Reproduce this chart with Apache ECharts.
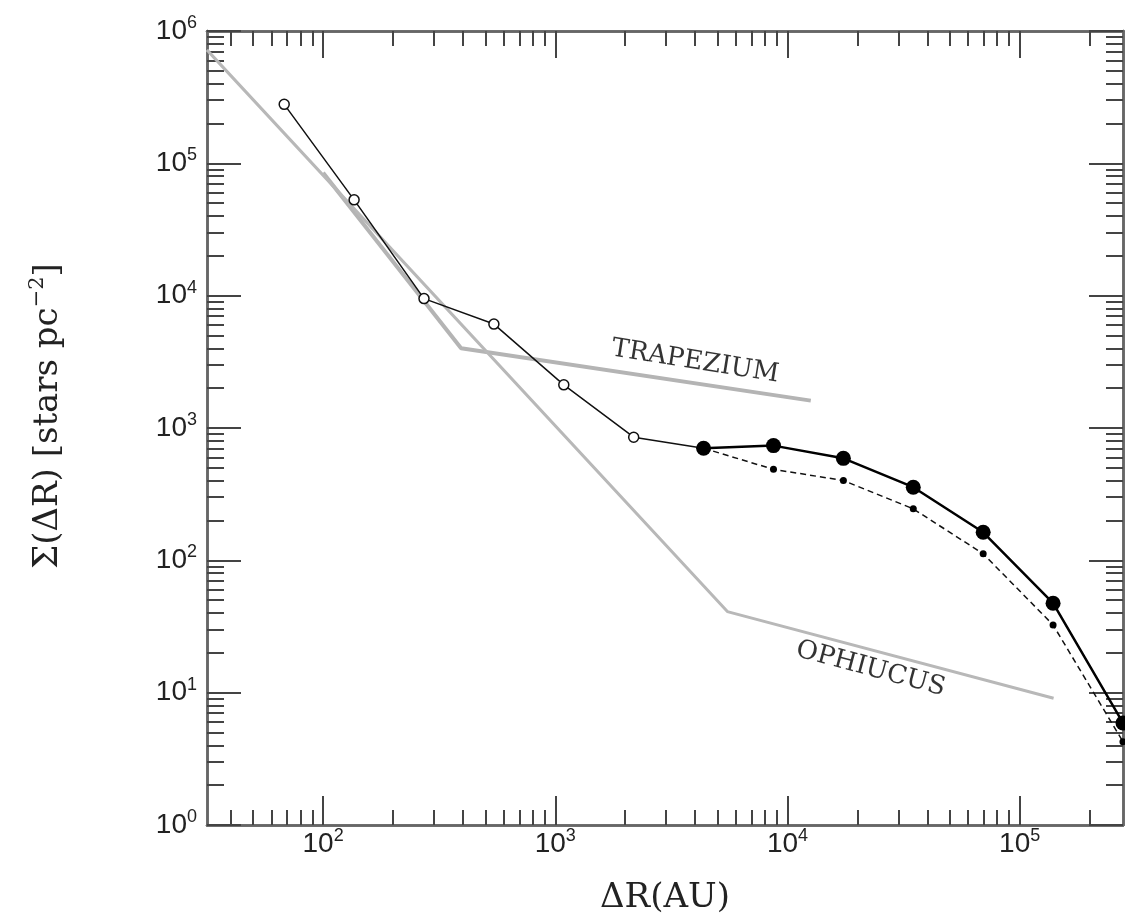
<!DOCTYPE html>
<html lang="en">
  <head>
    <meta charset="utf-8" />
    <title>Sigma(dR)</title>
    <script src="https://cdn.jsdelivr.net/npm/echarts@6/dist/echarts.min.js"></script>
    <style>
      html, body { margin: 0; padding: 0; background: #fff; }
      #chart { width: 1125px; height: 916px; }
    </style>
  </head>
  <body>
    <div id="chart"></div>
    <script type="text/javascript">
      // separations (AU)
      var dist = [68, 136, 272, 544, 1088, 2176, 4352, 8704, 17408, 34816, 69632, 139264, 278528];
      // open circles, thin line (first 7 separations)
      var sigmaInner = [279000, 53000, 9500, 6100, 2120, 852, 703];
      // filled circles, thick line (from 4352 AU on)
      var sigmaOuter = [703, 736, 590, 357, 163, 47.4, 5.9];
      // small dots, dashed line (from 4352 AU on)
      var sigmaDashed = [703, 487, 401, 245, 112, 32.5, 4.26];

      // grey reference lines
      var trapX = [100, 393, 12600];
      var trapY = [85000, 4010, 1610];
      var ophX = [31.6, 5510, 140000];
      var ophY = [720000, 41, 9.07];

      // labels for the grey lines [x, y, text, angle]
      var notes = [
        [4000, 3160, "TRAPEZIUM", -9],
        [22800, 15.1, "OPHIUCUS", -15],
      ];

      var xMajor = [100, 1000, 10000, 100000];
      var yMajor = [1, 10, 100, 1000, 10000, 100000, 1000000];

      var lg = Math.log10;
      var xMin = 1.5, xMax = 5.445, yMin = 0, yMax = 6;

      function minors(lo, hi) {
        var out = [];
        for (var n = Math.floor(lo) - 1; n <= Math.ceil(hi); n++) {
          for (var k = 2; k <= 9; k++) {
            var v = n + lg(k);
            if (v > lo && v < hi) out.push(v);
          }
        }
        return out;
      }
      function pairs(xs, ys, off) {
        return ys.map(function (y, i) {
          return [lg(xs[i + (off || 0)]), lg(y)];
        });
      }
      var lbl = function (v) {
        return "{b|10}{s|" + Math.round(v) + "}";
      };
      var rich = {
        b: { fontFamily: "Liberation Sans", fontSize: 28, lineHeight: 34, color: "#222" },
        s: { fontFamily: "Liberation Sans", fontSize: 18, lineHeight: 4, verticalAlign: "top", color: "#222" },
      };
      var lineCol = "#666";

      function xAx(grid, pos, ticks, len, labels) {
        return {
          type: "value", gridIndex: grid, position: pos, min: xMin, max: xMax,
          splitLine: { show: false },
          axisLine: { show: true, onZero: false, lineStyle: { color: lineCol, width: 2.5 } },
          axisTick: { show: true, inside: true, length: len, customValues: ticks, lineStyle: { color: "#444", width: 2 } },
          axisLabel: labels
            ? { show: true, customValues: xMajor.map(lg), formatter: lbl, rich: rich, margin: 2 }
            : { show: false },
        };
      }
      function yAx(grid, pos, ticks, len, labels) {
        return {
          type: "value", gridIndex: grid, position: pos, min: yMin, max: yMax,
          splitLine: { show: false },
          axisLine: { show: true, onZero: false, lineStyle: { color: lineCol, width: 2.5 } },
          axisTick: { show: true, inside: true, length: len, customValues: ticks, lineStyle: { color: "#444", width: 2 } },
          axisLabel: labels
            ? { show: true, customValues: yMajor.map(lg), formatter: lbl, rich: rich, margin: 10 }
            : { show: false },
        };
      }

      var gridBox = { left: 207, top: 31, right: 2, bottom: 91, outerBoundsMode: "none" };
      var grids = [0, 1, 2, 3].map(function () {
        return Object.assign({}, gridBox);
      });

      var xs = [
        xAx(0, "bottom", xMajor.map(lg), 29, true),
        xAx(1, "top", xMajor.map(lg), 27, false),
        xAx(2, "bottom", minors(xMin, xMax), 15, false),
        xAx(3, "top", minors(xMin, xMax), 15, false),
      ];
      var ys = [
        yAx(0, "left", yMajor.map(lg), 34, true),
        yAx(1, "right", yMajor.map(lg), 34, false),
        yAx(2, "left", minors(yMin, yMax), 17, false),
        yAx(3, "right", minors(yMin, yMax), 17, false),
      ];
      xs[0].name = "ΔR(AU)";
      xs[0].nameLocation = "middle";
      xs[0].nameGap = 56;
      xs[0].nameTextStyle = { fontFamily: "DejaVu Serif", fontSize: 34, color: "#222" };
      ys[0].name = "{n|Σ(ΔR) [stars pc}{s|−2}{n|]}";
      ys[0].nameLocation = "middle";
      ys[0].nameRotate = 90;
      ys[0].nameGap = 138;
      ys[0].nameTextStyle = {
        padding: [0, 0, 0, 24],
        rich: {
          n: { fontFamily: "DejaVu Serif", fontSize: 34, lineHeight: 42, color: "#222" },
          s: { fontFamily: "DejaVu Serif", fontSize: 21, lineHeight: 8, verticalAlign: "top", color: "#222" },
        },
      };

      var myChart = echarts.init(document.getElementById("chart"));
      myChart.setOption({
        animation: false,
        backgroundColor: "#fff",
        grid: grids,
        xAxis: xs,
        yAxis: ys,
        series: [
          {
            name: "Trapezium", type: "line", data: pairs(trapX, trapY), symbol: "none",
            lineStyle: { color: "#b4b4b4", width: 4 }, z: 1,
          },
          {
            name: "Ophiucus", type: "line", data: pairs(ophX, ophY), symbol: "none",
            lineStyle: { color: "#b8b8b8", width: 3 }, z: 1,
          },
          {
            name: "inner", type: "line", data: pairs(dist, sigmaInner), symbol: "circle", symbolSize: 10,
            itemStyle: { color: "#fff", borderColor: "#111", borderWidth: 1.5 },
            lineStyle: { color: "#111", width: 1.5 }, z: 3,
          },
          {
            name: "dashed", type: "line", data: pairs(dist, sigmaDashed, 6), symbol: "circle", symbolSize: 7,
            itemStyle: { color: "#000" },
            lineStyle: { color: "#111", width: 1.5, type: [6, 4] }, z: 3,
          },
          {
            name: "outer", type: "line", data: pairs(dist, sigmaOuter, 6), symbol: "circle", symbolSize: 15,
            itemStyle: { color: "#000" },
            lineStyle: { color: "#000", width: 2.5 }, z: 4,
          },
          {
            name: "notes", type: "scatter", symbolSize: 0, z: 5,
            data: notes.map(function (n) {
              return {
                value: [lg(n[0]), lg(n[1])],
                name: n[2],
                label: { rotate: n[3] },
              };
            }),
            label: {
              show: true, position: "inside", formatter: "{b}",
              fontFamily: "DejaVu Serif", fontSize: 26, color: "#000",
            },
          },
        ],
      });
    </script>
  </body>
</html>
